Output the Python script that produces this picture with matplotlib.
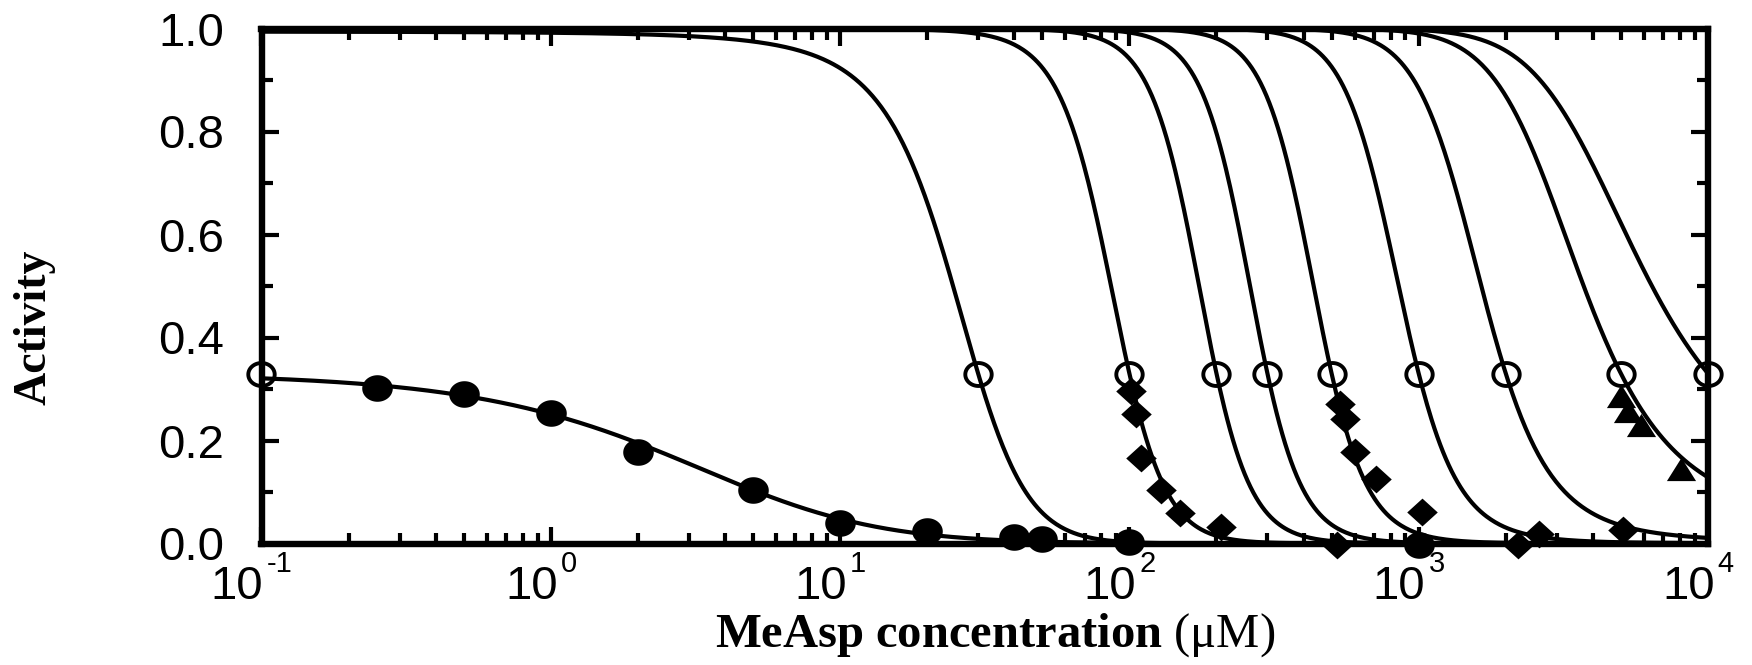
import numpy as np
import matplotlib
matplotlib.use("Agg")
import matplotlib.pyplot as plt
from matplotlib.path import Path
from matplotlib.transforms import IdentityTransform
from matplotlib.ticker import FixedLocator, LogLocator, MultipleLocator, NullFormatter, FormatStrFormatter

# ---------------- data ----------------
# filled circles
circ_x = [0.25, 0.5, 1.0, 2.0, 5.0, 10.0, 20.0, 40.0, 50.0, 100.0, 1000.0]
circ_y = [0.301, 0.290, 0.254, 0.178, 0.104, 0.040, 0.025, 0.013, 0.008, 0.002, -0.002]
# filled diamonds
dia_x = [101, 105, 110, 129, 150, 207, 520, 533, 556, 602, 712, 1025, 2200, 2610, 5100]
dia_y = [0.297, 0.252, 0.166, 0.104, 0.060, 0.032, -0.003, 0.270, 0.242, 0.178, 0.126,
         0.061, -0.003, 0.018, 0.026]
# filled triangles
tri_x = [5000, 5300, 5850, 8050]
tri_y = [0.285, 0.255, 0.228, 0.143]
# open circles (adapted states)
open_x = [0.1, 30, 100, 200, 300, 500, 1000, 2000, 5000, 10000]
open_y = [0.33, 0.33, 0.33, 0.33, 0.33, 0.33, 0.33, 0.33, 0.33, 0.33]

# fitted (MWC-type) curves: parameters
steep_cross = [30, 100, 200, 300, 500, 1000, 2000, 5000, 10000]  # conc. where curve meets 0.33
steep_N = 6.0
steep_Ki = 18.0
steep_Ka = 2900.0
low_A0 = 0.33
low_N = 2.0
low_Ki = 4.7

xticks = [1e-1, 1e0, 1e1, 1e2, 1e3, 1e4]
xtick_exps = ['-1', '0', '1', '2', '3', '4']
yticks = [0.0, 0.2, 0.4, 0.6, 0.8, 1.0]

# ---------------- style ----------------
plt.rcParams['font.family'] = ['Liberation Sans', 'DejaVu Sans']
plt.rcParams['mathtext.fontset'] = 'custom'
plt.rcParams['mathtext.rm'] = 'Liberation Serif'
plt.rcParams['mathtext.bf'] = 'Liberation Serif:bold'
plt.rcParams['mathtext.it'] = 'Liberation Serif:italic'

W, H = 1752, 665
fig = plt.figure(figsize=(W / 100, H / 100), dpi=100)
L, R, T, B = 261.5, 1708, 28.5, 543.5
ax = fig.add_axes([L / W, 1 - B / H, (R - L) / W, (B - T) / H])
ax.set_xscale('log')

c = np.logspace(-1, 4, 1000)
target = np.log(1.0 / 0.33 - 1.0)
for cx in steep_cross:
    F0 = np.log((1 + cx / steep_Ki) / (1 + cx / steep_Ka))
    eps = target / steep_N - F0
    A = 1.0 / (1.0 + np.exp(steep_N * (eps + np.log((1 + c / steep_Ki) / (1 + c / steep_Ka)))))
    ax.plot(c, A, color='black', lw=3.0, zorder=2)

eps_low = np.log(1.0 / low_A0 - 1.0) / low_N
A_low = 1.0 / (1.0 + np.exp(low_N * (eps_low + np.log(1 + c / low_Ki))))
ax.plot(c, A_low, color='black', lw=3.0, zorder=2)

# custom (slightly wide) marker shapes
th = np.linspace(0, 2 * np.pi, 120)
ell = Path(np.column_stack([1.15 * np.cos(th), np.sin(th)]), closed=True)
dia = Path([(0, 1), (1.1, 0), (0, -1), (-1.1, 0), (0, 1)], closed=True)
tri = Path([(-1.1, -0.8), (1.1, -0.8), (0, 0.95), (-1.1, -0.8)], closed=True)

ax.plot(circ_x, circ_y, ls='none', marker=ell, ms=22, color='black', mew=0, zorder=4, clip_on=False)
ax.plot(dia_x, dia_y, ls='none', marker=dia, ms=22, color='black', mew=0, zorder=4, clip_on=False)
ax.plot(tri_x, tri_y, ls='none', marker=tri, ms=21, color='black', mew=0, zorder=4, clip_on=False)
ax.plot(open_x, open_y, ls='none', marker=ell, ms=19, mfc='none', mec='black', mew=2.8,
        zorder=5, clip_on=False)

ax.set_xlim(0.1, 1e4)
ax.set_ylim(0, 1)
ax.xaxis.set_major_locator(FixedLocator(xticks))
ax.xaxis.set_minor_locator(LogLocator(base=10, subs=np.arange(2, 10)))
ax.xaxis.set_minor_formatter(NullFormatter())
ax.set_xticklabels([''] * len(xticks))
ax.yaxis.set_major_locator(FixedLocator(yticks))
ax.yaxis.set_minor_locator(MultipleLocator(0.1))
ax.yaxis.set_major_formatter(FormatStrFormatter('%.1f'))

for s in ax.spines.values():
    s.set_linewidth(4.6)
ax.tick_params(which='both', direction='in', top=True, right=True, width=3.0)
ax.tick_params(which='major', length=12, labelsize=34)
ax.tick_params(which='minor', length=8)
ax.tick_params(axis='y', which='major', pad=27)

# x tick labels: "10" with a small raised exponent
fig.canvas.draw()
renderer = fig.canvas.get_renderer()
base_y = H - 599
exp_y = H - 572
for tv, ex in zip(xticks, xtick_exps):
    xp = ax.transData.transform((tv, 0.5))[0]
    t1 = fig.text(0, base_y, '10', fontsize=34, transform=IdentityTransform(),
                  ha='left', va='baseline')
    t2 = fig.text(0, exp_y, ex, fontsize=21, transform=IdentityTransform(),
                  ha='left', va='baseline')
    w1 = t1.get_window_extent(renderer).width
    w2 = t2.get_window_extent(renderer).width
    gap = 3
    left = xp - 10 - (w1 + gap + w2) / 2
    t1.set_x(left)
    t2.set_x(left + w1 + gap)

fig.text(34 / W, 1 - 327 / H, 'Activity', rotation=90, ha='center', va='center',
         fontsize=33, fontweight='bold', family='Liberation Serif')
fig.text(995.5 / W, 1 - 647 / H, r'$\mathbf{MeAsp\ concentration}$ (μM)', ha='center',
         va='baseline', fontsize=35, family='Liberation Serif')

fig.savefig('out.png', dpi=100)
